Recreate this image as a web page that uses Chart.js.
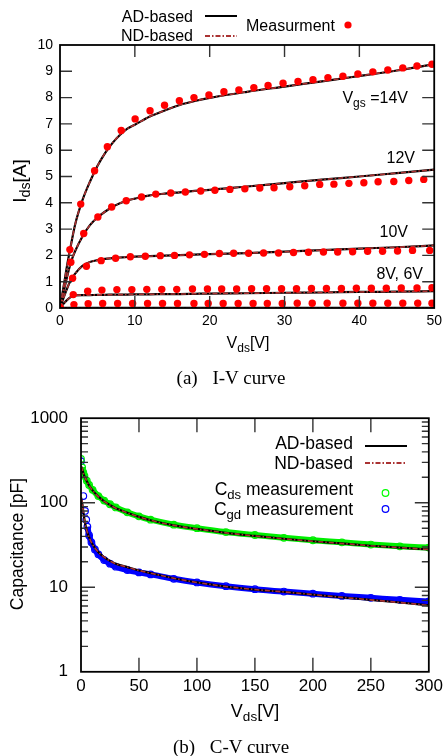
<!DOCTYPE html>
<html>
<head>
<meta charset="utf-8">
<script src="https://cdn.jsdelivr.net/npm/chart.js@4.4.0/dist/chart.umd.min.js"></script>
<style>
  body { margin: 0; background: #fff; }
  #page { position: relative; width: 447px; height: 756px; overflow: hidden;
          font-family: 'Liberation Sans', Arial, sans-serif; color: #000; }
  canvas { position: absolute; left: 0; }
  .lbl { position: absolute; white-space: nowrap; line-height: 1; }
  .sub { font-size: 0.75em; position: relative; top: 0.3em; }
  .cap { font-family: 'Liberation Serif', 'Times New Roman', serif; }
  .gap { display: inline-block; width: 10px; }
  svg { position: absolute; left: 0; top: 0; }
</style>
</head>
<body>
<div id="page">
  <canvas id="iv" width="447" height="330" style="top:0"></canvas>
  <canvas id="cv" width="447" height="300" style="top:395px"></canvas>
  <svg width="447" height="756">
    <line x1="205" y1="16" x2="237" y2="16" stroke="#000" stroke-width="2"/>
    <line x1="205" y1="36" x2="237" y2="36" stroke="#a33" stroke-width="1.8" stroke-dasharray="5 2 1.5 2"/>
    <circle cx="348" cy="25" r="3.6" fill="#f00"/>
    <line x1="365" y1="446" x2="407" y2="446" stroke="#000" stroke-width="2"/>
    <line x1="365" y1="463" x2="407" y2="463" stroke="#a33" stroke-width="1.8" stroke-dasharray="5 2 1.5 2"/>
    <circle cx="385.5" cy="493" r="3.3" fill="none" stroke="#0f0" stroke-width="1.2"/>
    <circle cx="385.5" cy="509" r="3.3" fill="none" stroke="#00f" stroke-width="1.2"/>
  </svg>
</div>
<script>
// ---- (a) I-V data ----
var vds14 = [0, 1.32, 2.77, 4.62, 6.33, 8.18, 10.04, 12.03, 13.97, 15.95, 17.9, 19.9, 21.9, 23.9, 25.9, 27.8, 29.8, 31.8, 33.8, 35.8, 37.8, 39.8, 41.8, 43.8, 45.8, 47.7, 49.7];
var ids14 = [0, 2.22, 3.95, 5.22, 6.13, 6.75, 7.19, 7.50, 7.71, 7.88, 8.0, 8.10, 8.22, 8.29, 8.38, 8.46, 8.55, 8.61, 8.68, 8.76, 8.81, 8.90, 8.98, 9.05, 9.13, 9.20, 9.27];
var vds12 = [0, 1.45, 3.17, 5.06, 6.91, 8.85, 10.9, 12.8, 14.8, 16.75, 18.8, 20.7, 22.7, 24.7, 26.7, 28.6, 30.7, 32.7, 34.7, 36.6, 38.6, 40.6, 42.5, 44.6, 46.6, 48.6];
var ids12 = [0, 1.74, 2.83, 3.46, 3.84, 4.08, 4.22, 4.33, 4.37, 4.41, 4.45, 4.48, 4.51, 4.53, 4.56, 4.57, 4.61, 4.65, 4.70, 4.71, 4.74, 4.76, 4.80, 4.81, 4.85, 4.89];
var vds10 = [0, 1.68, 3.53, 5.5, 7.43, 9.4, 11.4, 13.4, 15.3, 17.3, 19.3, 21.3, 23.2, 25.2, 27.2, 29.2, 31.2, 33.2, 35.2, 37.1, 39.1, 41.1, 43.1, 45.1, 47.1, 49.4];
var ids10 = [0, 1.13, 1.59, 1.80, 1.89, 1.95, 1.97, 1.99, 2.00, 2.02, 2.04, 2.07, 2.08, 2.08, 2.09, 2.09, 2.11, 2.12, 2.13, 2.13, 2.14, 2.16, 2.16, 2.17, 2.19, 2.19];
var vds8 = [0, 1.77, 3.7, 5.6, 7.6, 9.6, 11.6, 13.6, 15.6, 17.7, 19.7, 21.6, 23.6, 25.6, 27.6, 29.6, 31.6, 33.6, 35.6, 37.6, 39.6, 41.6, 43.6, 45.6, 47.7, 49.7];
var ids8 = [0, 0.51, 0.64, 0.68, 0.70, 0.70, 0.71, 0.71, 0.71, 0.72, 0.72, 0.72, 0.72, 0.73, 0.73, 0.73, 0.73, 0.74, 0.74, 0.74, 0.75, 0.75, 0.75, 0.76, 0.76, 0.77];
var vds6 = [0, 1.86, 3.76, 5.7, 7.7, 9.7, 11.7, 13.7, 15.7, 17.9, 19.8, 21.8, 23.8, 25.8, 27.7, 29.7, 31.7, 33.7, 35.7, 37.8, 39.8, 41.8, 43.8, 45.8, 47.8, 49.7];
var ids6 = [0, 0.13, 0.16, 0.17, 0.17, 0.17, 0.17, 0.17, 0.17, 0.17, 0.17, 0.17, 0.17, 0.17, 0.17, 0.17, 0.18, 0.18, 0.18, 0.18, 0.18, 0.18, 0.18, 0.18, 0.18, 0.18];

// model curves (AD and ND overlap)
var vModel = [0, 0.5, 1, 1.5, 2, 3, 4, 5, 6, 7, 8, 9, 10, 12, 14, 16, 18, 20, 25, 30, 35, 40, 45, 50];
var model14 = [0, 0.85, 1.7, 2.45, 3.15, 4.1, 4.8, 5.4, 5.88, 6.27, 6.58, 6.82, 6.97, 7.28, 7.51, 7.72, 7.87, 7.99, 8.22, 8.42, 8.62, 8.82, 9.03, 9.27];
var model12 = [0, 0.63, 1.25, 1.78, 2.15, 2.72, 3.15, 3.44, 3.66, 3.84, 3.98, 4.09, 4.16, 4.28, 4.35, 4.40, 4.45, 4.49, 4.62, 4.75, 4.88, 5.0, 5.13, 5.26];
var model10 = [0, 0.4, 0.78, 1.08, 1.3, 1.6, 1.75, 1.82, 1.87, 1.9, 1.92, 1.94, 1.95, 1.97, 1.99, 2.01, 2.03, 2.05, 2.09, 2.14, 2.2, 2.26, 2.31, 2.38];
var model8 = [0, 0.17, 0.32, 0.43, 0.48, 0.49, 0.49, 0.5, 0.5, 0.51, 0.51, 0.51, 0.52, 0.52, 0.53, 0.53, 0.54, 0.55, 0.56, 0.58, 0.59, 0.61, 0.62, 0.64];
var model6 = [0, 0.01, 0.01, 0.01, 0.01, 0.01, 0.01, 0.01, 0.01, 0.01, 0.01, 0.01, 0.01, 0.01, 0.01, 0.01, 0.01, 0.01, 0.01, 0.01, 0.01, 0.01, 0.01, 0.01];

// ---- (b) C-V data ----
var vCap = [0, 1, 2, 3, 5, 7, 10, 15, 20, 25, 30, 40, 50, 60, 80, 100, 125, 150, 175, 200, 225, 250, 275, 300];
var cdsModel = [270, 250, 225, 205, 180, 160, 140, 118, 104, 94, 86, 76, 68, 62, 54, 49, 44, 40.5, 37.5, 35, 33, 31, 29.5, 28];
var cgdModel = [115, 100, 78, 63, 47, 39, 32, 26, 22.8, 20.5, 19, 17.3, 15.8, 14.7, 12.8, 11.4, 10.2, 9.4, 8.8, 8.2, 7.6, 7.1, 6.6, 6.1];
var vCdsMeas = [0, 1, 2, 3, 5, 7, 10, 15, 20, 25, 30, 40, 50, 60, 80, 100, 125, 150, 175, 200, 225, 250, 275, 300];
var cdsMeas = [330, 262, 228, 207, 182, 162, 142, 120, 106, 96, 88, 77, 69, 63, 55, 50, 45, 41.5, 38.5, 36, 34, 32, 30.5, 29.5];
var vCgdMeas = [0, 2, 3.5, 4.5, 5.5, 7, 9, 12, 15, 20, 25, 30, 40, 50, 60, 80, 100, 125, 150, 175, 200, 225, 250, 275, 300];
var cgdMeas = [310, 120, 80, 63, 52, 41, 34, 28, 24.5, 21, 19, 17.5, 16, 15, 14.2, 12.6, 11.4, 10.3, 9.5, 8.9, 8.4, 7.9, 7.5, 7.1, 6.8];

var ivXTicks = [10, 20, 30, 40];
var ivYTicks = [1, 2, 3, 4, 5, 6, 7, 8, 9];
var cvXTicks = [50, 100, 150, 200, 250];
var cvYMajor = [10, 100];
var cvYMinor = [2, 3, 4, 5, 6, 7, 8, 9, 20, 30, 40, 50, 60, 70, 80, 90, 200, 300, 400, 500, 600, 700, 800, 900];

var FONT = "'Liberation Sans', Arial, sans-serif";
var ND_RED = '#a33';

function pts(xs, ys) {
  return xs.map(function(x, i) { return {x: x, y: ys[i]}; });
}

// inward ticks on all four sides plus the box
var frameTicks = {
  id: 'frameTicks',
  afterDatasetsDraw: function(chart, args, o) {
    var ctx = chart.ctx, a = chart.chartArea;
    var xs = chart.scales.x, ys = chart.scales.y;
    ctx.save();
    ctx.strokeStyle = '#333';
    ctx.lineWidth = 1.4;
    ctx.beginPath();
    o.xTicks.forEach(function(v) {
      var p = xs.getPixelForValue(v);
      ctx.moveTo(p, a.bottom); ctx.lineTo(p, a.bottom - o.major);
      ctx.moveTo(p, a.top); ctx.lineTo(p, a.top + o.major);
    });
    o.yTicks.forEach(function(v) {
      var p = ys.getPixelForValue(v);
      ctx.moveTo(a.left, p); ctx.lineTo(a.left + o.major, p);
      ctx.moveTo(a.right, p); ctx.lineTo(a.right - o.major, p);
    });
    (o.yMinor || []).forEach(function(v) {
      var p = ys.getPixelForValue(v);
      ctx.moveTo(a.left, p); ctx.lineTo(a.left + o.minor, p);
      ctx.moveTo(a.right, p); ctx.lineTo(a.right - o.minor, p);
    });
    ctx.stroke();
    ctx.strokeStyle = '#000';
    ctx.lineWidth = 1.8;
    ctx.strokeRect(a.left, a.top, a.right - a.left, a.bottom - a.top);
    ctx.restore();
  }
};

function adLine(data) {
  return { data: data, showLine: true, borderColor: '#000', borderWidth: 2.2,
           pointRadius: 0, cubicInterpolationMode: 'monotone', order: 2 };
}
function ndLine(data) {
  return { data: data, showLine: true, borderColor: ND_RED, borderWidth: 1.6,
           borderDash: [5, 2, 1.5, 2], pointRadius: 0, cubicInterpolationMode: 'monotone', order: 1 };
}
function measDots(data) {
  return { data: data, showLine: false, pointRadius: 3.7, backgroundColor: '#f00',
           borderWidth: 0, order: 0 };
}

var ivSets = [];
[[model14, vds14, ids14], [model12, vds12, ids12], [model10, vds10, ids10],
 [model8, vds8, ids8], [model6, vds6, ids6]].forEach(function(c) {
  ivSets.push(adLine(pts(vModel, c[0])));
  ivSets.push(ndLine(pts(vModel, c[0])));
  ivSets.push(measDots(pts(c[1], c[2])));
});

new Chart(document.getElementById('iv'), {
  type: 'scatter',
  data: { datasets: ivSets },
  options: {
    responsive: false, animation: false, events: [],
    layout: { padding: { top: 45, right: 10, left: 0, bottom: 0 } },
    plugins: { legend: { display: false }, tooltip: { enabled: false },
               frameTicks: { xTicks: ivXTicks, yTicks: ivYTicks, major: 12 } },
    scales: {
      x: { type: 'linear', min: 0, max: 50,
           ticks: { stepSize: 10, color: '#000', padding: 5, font: { family: FONT, size: 14 } },
           grid: { display: false, drawTicks: false }, border: { display: false },
           afterFit: function(s) { s.height = 22; } },
      y: { type: 'linear', min: 0, max: 10,
           ticks: { stepSize: 1, color: '#000', padding: 7, font: { family: FONT, size: 14 } },
           grid: { display: false, drawTicks: false }, border: { display: false },
           afterFit: function(s) { s.width = 60; } }
    }
  },
  plugins: [frameTicks]
});

function measBand(data, color, skipBelow) {
  return { data: data, showLine: true, borderColor: color, borderWidth: 6,
           pointRadius: 3.3, pointBorderWidth: 1.2, pointBorderColor: color,
           pointBackgroundColor: 'rgba(0,0,0,0)', cubicInterpolationMode: 'monotone', order: 3,
           segment: { borderColor: function(ctx) { return ctx.p0.parsed.x < skipBelow ? 'rgba(0,0,0,0)' : undefined; } } };
}

new Chart(document.getElementById('cv'), {
  type: 'scatter',
  data: { datasets: [
    measBand(pts(vCdsMeas, cdsMeas), '#00ee00', 1),
    measBand(pts(vCgdMeas, cgdMeas), '#0000ff', 5),
    adLine(pts(vCap, cdsModel)), ndLine(pts(vCap, cdsModel)),
    adLine(pts(vCap, cgdModel)), ndLine(pts(vCap, cgdModel))
  ] },
  options: {
    responsive: false, animation: false, events: [],
    layout: { padding: { top: 23, right: 16, left: 0, bottom: 0 } },
    plugins: { legend: { display: false }, tooltip: { enabled: false },
               frameTicks: { xTicks: cvXTicks, yTicks: cvYMajor, yMinor: cvYMinor, major: 14, minor: 7 } },
    scales: {
      x: { type: 'linear', min: 0, max: 300,
           ticks: { stepSize: 50, color: '#000', padding: 4, font: { family: FONT, size: 17 } },
           grid: { display: false, drawTicks: false }, border: { display: false },
           afterFit: function(s) { s.height = 21; } },
      y: { type: 'logarithmic', min: 1, max: 1000,
           ticks: { color: '#000', padding: 13, autoSkip: false, font: { family: FONT, size: 17 },
                    callback: function(v) {
                      var l = Math.log10(v);
                      return Math.abs(l - Math.round(l)) < 1e-9 ? String(v) : '';
                    } },
           grid: { display: false, drawTicks: false }, border: { display: false },
           afterFit: function(s) { s.width = 81; } }
    }
  },
  plugins: [frameTicks]
});

// ---- text overlays (subscripts need real HTML) ----
var labels = [
  ['AD-based', 193, 17, 'r', 16],
  ['ND-based', 193, 36, 'r', 16],
  ['Measurment', 246, 26, 'l', 16],
  ['V<span class="sub">gs</span> =14V', 408, 98, 'r', 16],
  ['12V', 415, 158, 'r', 16],
  ['10V', 408, 232, 'r', 16],
  ['8V, 6V', 423, 274, 'r', 16],
  ['V<span class="sub">ds</span>[V]', 248, 343, 'c', 16],
  ['I<span class="sub">ds</span>[A]', 19, 181, 'v', 19],
  ['AD-based', 353, 443.5, 'r', 17.5],
  ['ND-based', 353, 463.5, 'r', 17.5],
  ['C<span class="sub">ds</span> measurement', 353, 490, 'r', 17.5],
  ['C<span class="sub">gd</span> measurement', 353, 510, 'r', 17.5],
  ['V<span class="sub">ds</span>[V]', 255, 711, 'c', 18],
  ['Capacitance [pF]', 18, 544, 'v', 17.5]
];
var captions = [
  ['(a)', 'I-V curve', 231, 377],
  ['(b)', 'C-V curve', 231, 746]
];

var page = document.getElementById('page');
var tf = { r: 'translate(-100%,-50%)', l: 'translate(0,-50%)', c: 'translate(-50%,-50%)',
           v: 'translate(-50%,-50%) rotate(-90deg)' };
labels.forEach(function(L) {
  var d = document.createElement('div');
  d.className = 'lbl';
  d.innerHTML = L[0];
  d.style.left = L[1] + 'px';
  d.style.top = L[2] + 'px';
  d.style.fontSize = L[4] + 'px';
  d.style.transform = tf[L[3]];
  page.appendChild(d);
});
captions.forEach(function(C) {
  var d = document.createElement('div');
  d.className = 'lbl cap';
  d.innerHTML = C[0] + ' <span class="gap"></span>' + C[1];
  d.style.left = C[2] + 'px';
  d.style.top = C[3] + 'px';
  d.style.fontSize = '19px';
  d.style.transform = tf.c;
  page.appendChild(d);
});
</script>
</body>
</html>
